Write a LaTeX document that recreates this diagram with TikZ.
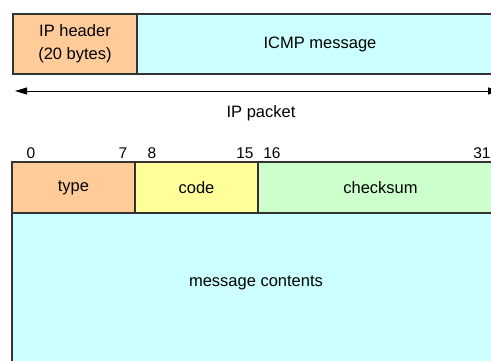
\documentclass[tikz,border=0pt]{standalone}
\usepackage{fontspec}
\setmainfont{Liberation Sans}
\usetikzlibrary{arrows.meta}
\definecolor{peach}{HTML}{FFCC99}
\definecolor{lcyan}{HTML}{CCFFFF}
\definecolor{lyellow}{HTML}{FFFF99}
\definecolor{lgreen}{HTML}{CCFFCC}
\begin{document}
\begin{tikzpicture}[x=1pt,y=-1pt,
  field/.style={draw=black!80, line width=1.2pt, inner sep=0pt, outer sep=0pt,
    anchor=north west, align=center, font=\fontsize{16.5}{23}\selectfont},
  txt/.style={inner sep=0pt, font=\fontsize{16.5}{18}\selectfont},
  bit/.style={inner sep=0pt, font=\fontsize{15.5}{18}\selectfont}]
\useasboundingbox (0,0) rectangle (491,361);
\clip (0,0) rectangle (491,361);

% IP packet: header and ICMP payload
\node[field, fill=peach, minimum width=124, minimum height=60] (iph) at (13,14)
  {IP header\\(20 bytes)};
\node[field, fill=lcyan, minimum width=366, minimum height=60] (icmp) at (137,14)
  {ICMP message};

% span of the whole IP packet
\coordinate (pl) at (15,91);
\coordinate (pr) at (500,91);
\draw[line width=0.8pt, {Triangle[length=12pt,width=7pt]}-{Triangle[length=12pt,width=7pt]}]
  (pl) -- (pr);
\node[txt] (pkt) at (261,113) {IP packet};

% bit positions
\node[bit] (b0)  at (31,153)  {0};
\node[bit] (b7)  at (123,153) {7};
\node[bit] (b8)  at (152,153) {8};
\node[bit] (b15) at (245,153) {15};
\node[bit] (b16) at (272,153) {16};
\node[bit] (b31) at (482,153) {31};

% ICMP header fields and body
\node[field, fill=lcyan, minimum width=491, minimum height=160] (body) at (12,213) {};
\node[field, fill=peach, minimum width=123, minimum height=51] (type) at (12,162) {type};
\node[field, fill=lyellow, minimum width=123, minimum height=51] (code) at (135,162) {code};
\node[field, fill=lgreen, minimum width=245, minimum height=51] (csum) at (258,162) {checksum};
\node[txt] (mc) at (256,283) {message contents};
\end{tikzpicture}
\end{document}
